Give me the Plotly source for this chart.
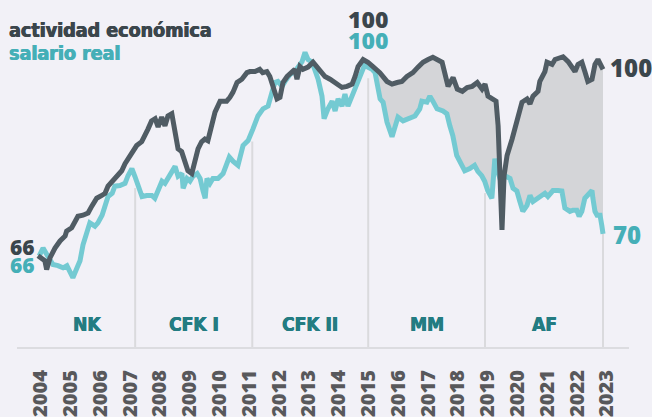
import numpy as np
import plotly.graph_objects as go

# ---- data ----
act_x = [2003.91, 2004.14, 2004.20, 2004.31, 2004.48, 2004.65, 2004.82, 2004.87, 2005.04, 2005.15,
         2005.25, 2005.42, 2005.59, 2005.71, 2005.88, 2006.05, 2006.16, 2006.26, 2006.43, 2006.59,
         2006.72, 2006.83, 2007.00, 2007.10, 2007.22, 2007.39, 2007.50, 2007.60, 2007.72, 2007.84,
         2007.94, 2008.06, 2008.17, 2008.27, 2008.40, 2008.51, 2008.61, 2008.73, 2008.84, 2008.94,
         2009.07, 2009.18, 2009.28, 2009.40, 2009.51, 2009.61, 2009.74, 2009.85, 2010.02, 2010.24,
         2010.35, 2010.45, 2010.59, 2010.75, 2010.92, 2011.02, 2011.19, 2011.35, 2011.45, 2011.59,
         2011.69, 2011.80, 2011.93, 2012.03, 2012.13, 2012.27, 2012.43, 2012.53, 2012.60, 2012.70,
         2012.80, 2012.97, 2013.14, 2013.27, 2013.43, 2013.54, 2013.71, 2013.81, 2013.98, 2014.11,
         2014.28, 2014.45, 2014.55, 2014.65, 2014.82, 2014.98, 2015.15, 2015.38, 2015.62, 2015.79,
         2015.96, 2016.12, 2016.29, 2016.49, 2016.66, 2016.83, 2017.00, 2017.16, 2017.47, 2017.57,
         2017.67, 2017.84, 2017.98, 2018.15, 2018.31, 2018.48, 2018.65, 2018.81, 2018.91, 2019.01,
         2019.18, 2019.28, 2019.35, 2019.41, 2019.48, 2019.55, 2019.65, 2019.82, 2019.99, 2020.15,
         2020.32, 2020.42, 2020.52, 2020.69, 2020.75, 2020.92, 2020.99, 2021.16, 2021.26, 2021.53,
         2021.70, 2021.83, 2021.93, 2022.03, 2022.16, 2022.26, 2022.36, 2022.50, 2022.60, 2022.70,
         2022.87]
act_y = [66.0, 65.1, 63.5, 65.6, 67.4, 68.7, 69.6, 70.5, 71.1, 72.3,
         73.2, 73.4, 73.8, 75.0, 76.5, 77.0, 77.4, 78.7, 79.7, 80.6,
         81.5, 82.8, 84.3, 85.0, 86.1, 86.8, 87.9, 89.1, 90.6, 91.0,
         89.5, 91.3, 89.7, 91.5, 91.9, 88.6, 85.5, 85.0, 83.4, 81.5,
         81.0, 83.2, 85.5, 86.8, 87.3, 87.0, 90.0, 92.2, 94.2, 94.2,
         94.9, 95.8, 97.6, 98.2, 99.4, 99.6, 99.6, 100.0, 99.4, 99.6,
         98.7, 96.9, 94.6, 94.9, 97.6, 98.7, 99.4, 100.0, 98.2, 100.5,
         100.0, 100.4, 101.3, 100.5, 99.4, 98.7, 98.2, 97.8, 97.3, 96.7,
         96.9, 97.3, 98.7, 100.5, 101.8, 101.3, 100.5, 99.4, 97.8, 97.3,
         97.6, 97.8, 98.7, 99.4, 100.4, 101.3, 101.8, 102.2, 101.3, 98.7,
         96.9, 98.5, 96.4, 96.0, 96.7, 96.9, 97.6, 96.4, 97.3, 95.1,
         94.6, 94.2, 89.7, 80.6, 70.7, 80.6, 84.3, 87.3, 90.4, 94.0,
         94.6, 93.7, 95.1, 96.0, 97.8, 99.6, 101.3, 100.9, 101.8, 102.3,
         101.4, 100.4, 99.6, 100.9, 101.3, 99.6, 97.8, 98.2, 100.9, 101.8,
         100.0]

sal_x = [2003.95, 2004.08, 2004.21, 2004.31, 2004.41, 2004.58, 2004.75, 2004.88, 2004.98, 2005.08,
         2005.22, 2005.32, 2005.42, 2005.55, 2005.65, 2005.82, 2005.92, 2006.06, 2006.16, 2006.26,
         2006.40, 2006.49, 2006.66, 2006.83, 2006.93, 2007.06, 2007.16, 2007.27, 2007.40, 2007.56,
         2007.73, 2007.83, 2007.93, 2008.07, 2008.17, 2008.27, 2008.41, 2008.51, 2008.61, 2008.74,
         2008.78, 2008.91, 2009.01, 2009.11, 2009.25, 2009.35, 2009.45, 2009.52, 2009.58, 2009.68,
         2009.78, 2009.95, 2010.12, 2010.25, 2010.33, 2010.46, 2010.62, 2010.79, 2010.96, 2011.12,
         2011.29, 2011.46, 2011.63, 2011.76, 2011.86, 2011.96, 2012.10, 2012.20, 2012.37, 2012.53,
         2012.63, 2012.77, 2012.87, 2012.97, 2013.11, 2013.21, 2013.31, 2013.44, 2013.51, 2013.64,
         2013.78, 2013.88, 2013.98, 2014.11, 2014.21, 2014.31, 2014.45, 2014.55, 2014.65, 2014.78,
         2014.88, 2014.98, 2015.12, 2015.22, 2015.32, 2015.39, 2015.49, 2015.62, 2015.79, 2015.89,
         2015.99, 2016.16, 2016.39, 2016.56, 2016.72, 2016.79, 2016.96, 2017.06, 2017.16, 2017.30,
         2017.50, 2017.63, 2017.73, 2017.83, 2017.96, 2018.06, 2018.23, 2018.40, 2018.56, 2018.67,
         2018.80, 2018.90, 2019.00, 2019.14, 2019.17, 2019.24, 2019.31, 2019.41, 2019.58, 2019.75,
         2019.85, 2019.98, 2020.08, 2020.18, 2020.32, 2020.42, 2020.52, 2020.66, 2020.82, 2020.92,
         2021.02, 2021.19, 2021.36, 2021.49, 2021.59, 2021.76, 2021.86, 2021.99, 2022.07, 2022.16,
         2022.26, 2022.36, 2022.50, 2022.53, 2022.60, 2022.67, 2022.77, 2022.83, 2022.87]
sal_y = [66.0, 67.4, 66.2, 65.1, 64.4, 64.2, 63.8, 64.2, 62.9, 62.0,
         63.8, 65.1, 68.0, 70.5, 72.0, 71.4, 72.0, 73.4, 75.2, 76.8,
         77.4, 78.7, 78.8, 79.2, 80.6, 81.9, 80.5, 78.8, 76.8, 77.0,
         77.0, 76.5, 77.8, 79.6, 79.2, 80.1, 81.5, 82.3, 80.5, 81.0,
         78.3, 80.1, 79.6, 80.5, 81.0, 80.1, 77.8, 76.5, 80.1, 79.2,
         80.1, 80.1, 81.0, 83.2, 84.0, 83.2, 82.5, 86.1, 87.0, 89.1,
         91.5, 92.8, 93.3, 95.8, 97.6, 97.8, 96.9, 97.8, 99.1, 99.6,
         100.5, 101.4, 103.1, 101.8, 101.3, 100.0, 98.2, 95.1, 91.0, 92.8,
         94.2, 92.4, 94.6, 93.3, 95.5, 93.3, 95.1, 96.4, 98.2, 99.6,
         100.9, 100.4, 100.0, 99.4, 96.9, 94.6, 94.0, 90.4, 87.7, 89.7,
         91.3, 90.6, 91.0, 91.5, 92.8, 94.2, 94.0, 95.1, 94.2, 92.8,
         92.4, 91.9, 89.7, 87.9, 84.3, 83.2, 81.5, 81.9, 82.5, 81.4,
         80.6, 79.6, 77.9, 76.5, 78.8, 83.7, 81.9, 80.1, 80.6, 80.1,
         78.3, 77.8, 75.9, 74.1, 75.2, 77.0, 75.9, 76.5, 77.0, 77.4,
         76.8, 77.9, 77.9, 77.8, 74.7, 74.1, 74.3, 74.3, 73.2, 74.1,
         76.5, 77.0, 77.9, 76.5, 74.1, 73.4, 73.4, 71.5, 70.0]

period_names = ["NK", "CFK I", "CFK II", "MM", "AF"]
period_ends = [2007.17, 2011.10, 2014.99, 2018.91, 2022.87]
year_ticks = list(range(2004, 2024))

series_names = ["actividad económica", "salario real"]

# ---- styling ----
BG = "#f2f1f7"
DARK = "#505c64"
DARK_TXT = "#3b464c"
TEAL = "#74cad2"
TEAL_TXT = "#45afb7"
PERIOD_TXT = "#237c82"
FILL = "#d4d5d8"
VLINE = "#dadadd"
Y_MIN, Y_MAX = 49.36, 112.65
X_MIN, X_MAX = 2003.205, 2023.742
NUM_FONT = dict(family="Open Sans", size=24, weight=800)
COND = dict(family="DejaVu Sans Condensed, DejaVu Sans, sans-serif", weight="bold")


def heavy(color):
    # slight horizontal text shadow to thicken the condensed bold face
    return "0.6px 0 0 %s, -0.3px 0 0 %s" % (color, color)


fig = go.Figure()

# gray gap area from the MM period onward
start = period_ends[2] - 0.05
sx = [x for x in sal_x if x >= start]
sy = [y for x, y in zip(sal_x, sal_y) if x >= start]
ax_ = [x for x in act_x if x >= start]
ay_ = [y for x, y in zip(act_x, act_y) if x >= start]
fig.add_trace(go.Scatter(x=sx, y=sy, mode="lines", line=dict(width=0, color=FILL),
                         hoverinfo="skip", showlegend=False))
fig.add_trace(go.Scatter(x=ax_, y=ay_, mode="lines", line=dict(width=0, color=FILL),
                         fill="tonexty", fillcolor=FILL, hoverinfo="skip", showlegend=False))

fig.add_trace(go.Scatter(x=sal_x, y=sal_y, mode="lines", name=series_names[1],
                         line=dict(color=TEAL, width=5), showlegend=False))
fig.add_trace(go.Scatter(x=act_x, y=act_y, mode="lines", name=series_names[0],
                         line=dict(color=DARK, width=5), showlegend=False))

# period separators
for i, b in enumerate(period_ends):
    top = sal_y[-1] if i == len(period_ends) - 1 else float(np.interp(b, sal_x, sal_y)) - 2
    fig.add_shape(type="line", x0=b, x1=b, y0=Y_MIN, y1=top, xref="x", yref="y",
                  line=dict(color=VLINE, width=2), layer="below")

# period labels
bounds = [act_x[0]] + period_ends
for i, name in enumerate(period_names):
    fig.add_annotation(x=(bounds[i] + bounds[i + 1]) / 2, y=0.066, xref="x", yref="paper",
                       text=name, showarrow=False, yanchor="middle",
                       font=dict(COND, size=19, color=PERIOD_TXT, shadow=heavy(PERIOD_TXT)))

# legend-like titles
fig.add_annotation(x=-0.017, y=0.912, xref="paper", yref="paper", text=series_names[0],
                   showarrow=False, xanchor="left", yanchor="middle",
                   font=dict(COND, size=19.5, color=DARK_TXT, shadow=heavy(DARK_TXT)))
fig.add_annotation(x=-0.017, y=0.846, xref="paper", yref="paper", text=series_names[1],
                   showarrow=False, xanchor="left", yanchor="middle",
                   font=dict(COND, size=19.5, color=TEAL_TXT, shadow=heavy(TEAL_TXT)))

# value labels
base_val = 100
fig.add_annotation(x=period_ends[2], y=base_val, text=str(base_val), showarrow=False,
                   yshift=50, font=dict(NUM_FONT, size=23, color=DARK_TXT))
fig.add_annotation(x=period_ends[2], y=base_val, text=str(base_val), showarrow=False,
                   yshift=29, font=dict(NUM_FONT, size=23, color=TEAL_TXT))
fig.add_annotation(x=act_x[-1], y=act_y[-1], text=f"{act_y[-1]:.0f}", showarrow=False,
                   xanchor="left", xshift=5, yshift=2, font=dict(NUM_FONT, color=DARK_TXT))
fig.add_annotation(x=sal_x[-1], y=sal_y[-1], text=f"{sal_y[-1]:.0f}", showarrow=False,
                   xanchor="left", xshift=8, yshift=-1, font=dict(NUM_FONT, color=TEAL_TXT))
fig.add_annotation(x=act_x[0], y=act_y[0], text=f"{act_y[0]:.0f}", showarrow=False,
                   xanchor="right", xshift=-1, yshift=9, font=dict(NUM_FONT, size=21, color=DARK_TXT))
fig.add_annotation(x=sal_x[0], y=sal_y[0], text=f"{sal_y[0]:.0f}", showarrow=False,
                   xanchor="right", xshift=-2, yshift=-9, font=dict(NUM_FONT, size=21, color=TEAL_TXT))

fig.update_layout(
    width=652, height=417,
    margin=dict(l=17, r=23, t=0, b=67),
    paper_bgcolor=BG, plot_bgcolor=BG,
    showlegend=False,
    xaxis=dict(range=[X_MIN, X_MAX], showgrid=False, zeroline=False,
               showline=True, linecolor="#dcdce0", linewidth=2,
               tickmode="array", tickvals=year_ticks, ticktext=[str(y) for y in year_ticks],
               tickangle=-90, ticks="outside", ticklen=13, tickcolor=BG,
               tickfont=dict(family="Open Sans", size=20, color="#58585b", weight=800),
               fixedrange=True),
    yaxis=dict(range=[Y_MIN, Y_MAX], visible=False, fixedrange=True),
)

fig.write_html("out.html", config={"displayModeBar": False},
               post_script="document.body.style.margin='0';document.body.style.background='%s';" % BG)
